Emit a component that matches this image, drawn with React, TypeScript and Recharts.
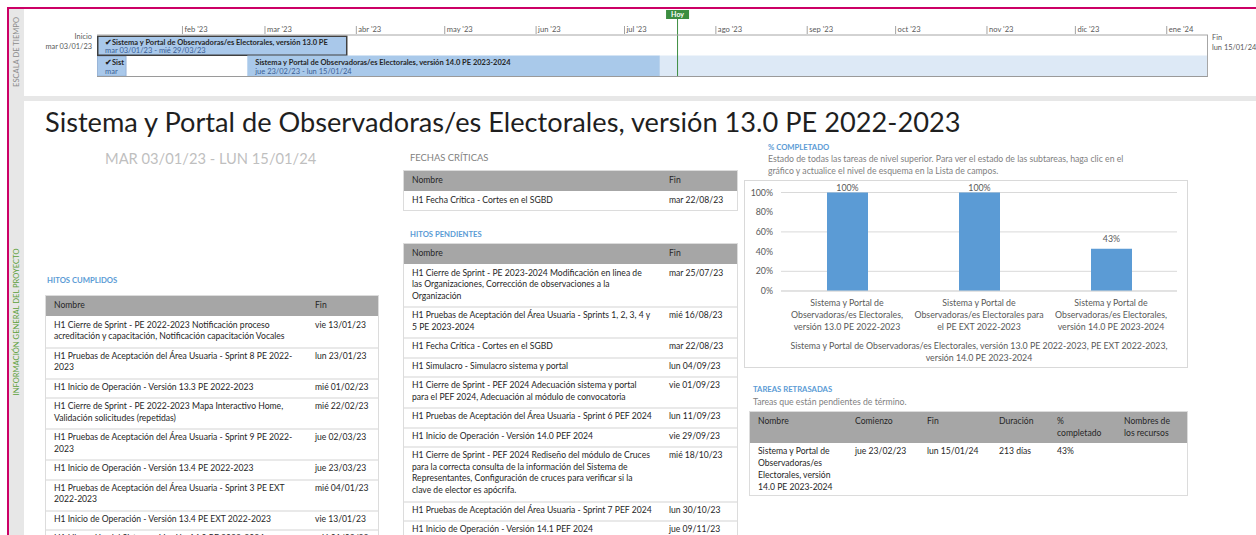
import React from 'react'
import { BarChart, Bar, ComposedChart, XAxis, YAxis, CartesianGrid, LabelList, ReferenceLine } from 'recharts'

const FONT = 'Lato, "Noto Sans", sans-serif'
const TABLE_FS = 8.6
const LINE = 11.7
const BAR_FS = 7.5

// escala de tiempo: días contados desde mar 03/01/23
const monthTicks = [29, 57, 88, 118, 149, 179, 210, 241, 271, 302, 332, 363]
const monthLabels = ["feb '23", "mar '23", "abr '23", "may '23", "jun '23", "jul '23", "ago '23", "sep '23", "oct '23", "nov '23", "dic '23", "ene '24"]
const projectDays = 377
const todayDay = 197
const tlRowNames = ['13.0 PE 2022-2023', '14.0 PE 2023-2024']
const tlFirst = [85, 10]
const tlGap = [0, 41]
const tlDone = [0, 140]
const tlRest = [0, 186]
const tlFirstNames = [
  'Sistema y Portal de Observadoras/es Electorales, versión 13.0 PE 2022-2023',
  'Sistema y Portal de Observadoras/es Electorales para el PE EXT 2022-2023',
]
const tlFirstDates = ['mar 03/01/23 - mié 29/03/23', 'mar 03/01/23 - vie 13/01/23']
const tlDoneNames = ['', 'Sistema y Portal de Observadoras/es Electorales, versión 14.0 PE 2023-2024']
const tlDoneDates = ['', 'jue 23/02/23 - lun 15/01/24']

// % completado
const pcCategories = [
  ['Sistema y Portal de', 'Observadoras/es Electorales,', 'versión 13.0 PE 2022-2023'],
  ['Sistema y Portal de', 'Observadoras/es Electorales para', 'el PE EXT 2022-2023'],
  ['Sistema y Portal de', 'Observadoras/es Electorales,', 'versión 14.0 PE 2023-2024'],
]
const pcValues = [100, 100, 43]
const pcTicks = [0, 20, 40, 60, 80, 100]
const pcAxisTitle = [
  'Sistema y Portal de Observadoras/es Electorales, versión 13.0 PE 2022-2023, PE EXT 2022-2023,',
  'versión 14.0 PE 2023-2024',
]

// tablas
const doneNames = [
  'H1 Cierre de Sprint - PE 2022-2023 Notificación proceso\nacreditación y capacitación, Notificación capacitación Vocales',
  'H1 Pruebas de Aceptación del Área Usuaria - Sprint 8 PE 2022-\n2023',
  'H1 Inicio de Operación - Versión 13.3 PE 2022-2023',
  'H1 Cierre de Sprint - PE 2022-2023 Mapa Interactivo Home,\nValidación solicitudes (repetidas)',
  'H1 Pruebas de Aceptación del Área Usuaria - Sprint 9 PE 2022-\n2023',
  'H1 Inicio de Operación - Versión 13.4 PE 2022-2023',
  'H1 Pruebas de Aceptación del Área Usuaria - Sprint 3 PE EXT\n2022-2023',
  'H1 Inicio de Operación - Versión 13.4 PE EXT 2022-2023',
  'H1 Liberación del Sistema - Versión 14.0 PE 2023-2024',
]
const doneDates = ['vie 13/01/23', 'lun 23/01/23', 'mié 01/02/23', 'mié 22/02/23', 'jue 02/03/23', 'jue 23/03/23', 'mié 04/01/23', 'vie 13/01/23', 'mié 01/03/23']

const criticalNames = ['H1 Fecha Crítica - Cortes en el SGBD']
const criticalDates = ['mar 22/08/23']

const pendingNames = [
  'H1 Cierre de Sprint - PE 2023-2024 Modificación en linea de\nlas Organizaciones, Corrección de observaciones a la\nOrganización',
  'H1 Pruebas de Aceptación del Área Usuaria - Sprints 1, 2, 3, 4 y\n5 PE 2023-2024',
  'H1 Fecha Crítica - Cortes en el SGBD',
  'H1 Simulacro - Simulacro sistema y portal',
  'H1 Cierre de Sprint - PEF 2024 Adecuación sistema y portal\npara el PEF 2024, Adecuación al módulo de convocatoria',
  'H1 Pruebas de Aceptación del Área Usuaria - Sprint 6 PEF 2024',
  'H1 Inicio de Operación - Versión 14.0 PEF 2024',
  'H1 Cierre de Sprint - PEF 2024 Rediseño del módulo de Cruces\npara la correcta consulta de la información del Sistema de\nRepresentantes, Configuración de cruces para verificar si la\nclave de elector es apócrifa.',
  'H1 Pruebas de Aceptación del Área Usuaria - Sprint 7 PEF 2024',
  'H1 Inicio de Operación - Versión 14.1 PEF 2024',
]
const pendingDates = ['mar 25/07/23', 'mié 16/08/23', 'mar 22/08/23', 'lun 04/09/23', 'vie 01/09/23', 'lun 11/09/23', 'vie 29/09/23', 'mié 18/10/23', 'lun 30/10/23', 'jue 09/11/23']

const lateHeaders = ['Nombre', 'Comienzo', 'Fin', 'Duración', '%\ncompletado', 'Nombres de\nlos recursos']
const lateRow = ['Sistema y Portal de\nObservadoras/es\nElectorales, versión\n14.0 PE 2023-2024', 'jue 23/02/23', 'lun 15/01/24', '213 días', '43%', '']
const lateColX = [8, 105, 177, 249, 307, 374]

// recorta el texto de una barra como lo hace Project: por palabra, o por letra si no hay espacio
let measureCtx: CanvasRenderingContext2D | null = null
function fitText(text: string, weight: number, size: number, maxWidth: number) {
  if (!measureCtx) measureCtx = document.createElement('canvas').getContext('2d')
  if (!measureCtx) return text
  measureCtx.font = `${weight} ${size}px Lato`
  if (measureCtx.measureText(text).width <= maxWidth) return text
  let n = text.length
  while (n > 0 && measureCtx.measureText(text.slice(0, n)).width > maxWidth) n--
  const cut = text.slice(0, n)
  if (text[n] !== ' ' && cut.includes(' ')) return cut.slice(0, cut.lastIndexOf(' '))
  return cut.trimEnd()
}

function Txt({ x, cy, size, color = '#262626', weight = 400, spacing = 0, children }: any) {
  return (
    <div style={{ position: 'absolute', left: x, top: cy - size * 0.66, fontSize: size, lineHeight: `${size * 1.2}px`, color, fontWeight: weight, letterSpacing: spacing, whiteSpace: 'nowrap' }}>
      {children}
    </div>
  )
}

function MonthTick({ x, y, payload }: any) {
  const i = monthTicks.indexOf(payload.value)
  return (
    <g>
      <line x1={x} x2={x} y1={y - 9} y2={y - 1} stroke="#8c8c8c" strokeWidth={0.8} />
      <text x={x + 2} y={y - 3.5} fontSize={7.6} fill="#595959" fontFamily={FONT}>{monthLabels[i]}</text>
    </g>
  )
}

function FirstSeg(props: any) {
  const { x, y, width, height, index } = props
  if (!width || width <= 0) return <g />
  const selected = index === 0
  const sw = selected ? 1.5 : 0.8
  const room = width - 9
  const title = fitText('\u2714' + tlFirstNames[index], 700, BAR_FS, room)
  const dates = fitText(tlFirstDates[index], 400, BAR_FS, room)
  return (
    <g fontFamily={FONT}>
      <rect x={x + sw / 2} y={y + sw / 2 + 0.5} width={width - sw} height={height - sw - 0.5} fill="#a9c8ea" stroke={selected ? '#404040' : '#8eaad0'} strokeWidth={sw} />
      <text x={x + 8} y={y + 9.6} fontSize={BAR_FS} fontWeight={700} fill="#262626">{title}</text>
      <text x={x + 8} y={y + 18.3} fontSize={BAR_FS} fill="#3b5f96">{dates}</text>
    </g>
  )
}

function DoneSeg(props: any) {
  const { x, y, width, height, index } = props
  if (!width || width <= 0) return <g />
  return (
    <g fontFamily={FONT}>
      <rect x={x} y={y} width={width} height={height} fill="#a9c9ea" />
      <text x={x + 8} y={y + 9.6} fontSize={BAR_FS} fontWeight={700} fill="#262626">{tlDoneNames[index]}</text>
      <text x={x + 8} y={y + 18.3} fontSize={BAR_FS} fill="#3b5f96">{tlDoneDates[index]}</text>
    </g>
  )
}

function RestSeg(props: any) {
  const { x, y, width, height } = props
  if (!width || width <= 0) return <g />
  return <rect x={x} y={y} width={width} height={height} fill="#dde9f6" />
}

function HoyLabel({ viewBox }: any) {
  if (!viewBox) return null
  const { x, y } = viewBox
  return (
    <g>
      <line x1={x} x2={x} y1={y - 17} y2={y} stroke="#3c8d40" strokeWidth={1} />
      <rect x={x - 11.5} y={y - 25} width={23} height={9} fill="#3c8d40" />
      <text x={x} y={y - 17.8} textAnchor="middle" fontSize={7} fontWeight={700} fill="#fff" fontFamily={FONT}>Hoy</text>
    </g>
  )
}

function CategoryTick({ x, y, index }: any) {
  const lines = pcCategories[index] ?? []
  return (
    <text x={x} textAnchor="middle" fontSize={8.8} fill="#595959" fontFamily={FONT}>
      {lines.map((l, i) => (
        <tspan key={i} x={x} y={y + 15.4 + i * 12}>{l}</tspan>
      ))}
    </text>
  )
}

function AxisTitle({ viewBox }: any) {
  if (!viewBox) return null
  const cx = viewBox.x + viewBox.width / 2
  return (
    <text textAnchor="middle" fontSize={8.8} fill="#595959" fontFamily={FONT}>
      {pcAxisTitle.map((l, i) => (
        <tspan key={i} x={cx} y={viewBox.y + 58.4 + i * 12}>{l}</tspan>
      ))}
    </text>
  )
}

function PctLabel({ x, y, width, value }: any) {
  const ty = Math.max(Number(y) - 6.4, 10.2)
  return (
    <text x={Number(x) + Number(width) / 2} y={ty} textAnchor="middle" fontSize={8.8} fill="#595959" fontFamily={FONT}>{`${value}%`}</text>
  )
}

function MilestoneTable({ left, top, width, finLeft, names, dates }: any) {
  return (
    <div style={{ position: 'absolute', left, top, width, border: '1px solid #dcdcdc', boxSizing: 'border-box', background: '#fff', fontSize: TABLE_FS, lineHeight: `${LINE}px`, color: '#262626' }}>
      <div style={{ position: 'relative', height: 19.5, background: '#a6a6a6' }}>
        <span style={{ position: 'absolute', left: 8, top: 3.5 }}>Nombre</span>
        <span style={{ position: 'absolute', left: finLeft, top: 3.5 }}>Fin</span>
      </div>
      {names.map((n: string, i: number) => (
        <div key={i} style={{ position: 'relative', borderTop: `2px solid ${i ? '#e9e9e9' : '#fff'}`, padding: '2px 0 3.7px 8px', whiteSpace: 'pre' }}>
          {n}
          <span style={{ position: 'absolute', left: finLeft, top: 2 }}>{dates[i]}</span>
        </div>
      ))}
    </div>
  )
}

export default function App() {
  const tlData = tlRowNames.map((row, i) => ({ row, first: tlFirst[i], gap: tlGap[i], done: tlDone[i], rest: tlRest[i] }))
  const pcData = pcValues.map((pct, i) => ({ name: pcCategories[i].join(' '), pct }))

  return (
    <div style={{ position: 'absolute', left: 0, top: 0, width: 1256, height: 535, overflow: 'hidden', background: '#fff', fontFamily: FONT, color: '#262626' }}>
      {/* marco */}
      <div style={{ position: 'absolute', left: 9, top: 9, width: 15, height: 526, background: '#e7e7e7' }} />
      <div style={{ position: 'absolute', left: 9, top: 96, width: 1247, height: 4.5, background: '#e7e7e7' }} />
      <div style={{ position: 'absolute', left: 7, top: 7, width: 1249, height: 2, background: '#cc0066' }} />
      <div style={{ position: 'absolute', left: 7, top: 7, width: 2, height: 528, background: '#cc0066' }} />
      <div style={{ position: 'absolute', left: 16.5, top: 52, transform: 'translate(-50%, -50%) rotate(-90deg)', fontSize: 7.6, lineHeight: 1, color: '#8c8c8c', whiteSpace: 'nowrap' }}>ESCALA DE TIEMPO</div>
      <div style={{ position: 'absolute', left: 16.5, top: 322, transform: 'translate(-50%, -50%) rotate(-90deg)', fontSize: 7.6, lineHeight: 1, color: '#5b9f3a', whiteSpace: 'nowrap' }}>INFORMACIÓN GENERAL DEL PROYECTO</div>

      {/* escala de tiempo */}
      <div style={{ position: 'absolute', left: 0, top: 32, width: 92, textAlign: 'right', fontSize: 7.4, lineHeight: '10px', color: '#595959' }}>Inicio<br />mar 03/01/23</div>
      <div style={{ position: 'absolute', left: 1212, top: 33, fontSize: 7.4, lineHeight: '10px', color: '#595959', whiteSpace: 'nowrap' }}>Fin<br />lun 15/01/24</div>
      <div style={{ position: 'absolute', left: 97, top: 10 }}>
        <ComposedChart layout="vertical" width={1111} height={66} data={tlData} margin={{ top: 0, right: 0, bottom: 0, left: 0 }} barCategoryGap={0} style={{ overflow: 'visible' }}>
          <XAxis type="number" orientation="top" domain={[0, projectDays]} ticks={monthTicks} interval={0} height={25} tickSize={0} tickMargin={0} tick={<MonthTick />} axisLine={{ stroke: '#a6a6a6' }} />
          <YAxis type="category" dataKey="row" hide />
          <Bar dataKey="first" stackId="t" shape={FirstSeg} isAnimationActive={false} />
          <Bar dataKey="gap" stackId="t" shape={() => <g />} isAnimationActive={false} />
          <Bar dataKey="done" stackId="t" shape={DoneSeg} isAnimationActive={false} />
          <Bar dataKey="rest" stackId="t" shape={RestSeg} isAnimationActive={false} />
          <ReferenceLine x={todayDay} stroke="#3c8d40" strokeWidth={1} label={<HoyLabel />} />
        </ComposedChart>
      </div>
      <div style={{ position: 'absolute', left: 97, top: 35, width: 1111, height: 41.5, boxSizing: 'border-box', borderRight: '1px solid #a6a6a6', borderBottom: '1.5px solid #9a9a9a', pointerEvents: 'none' }} />

      {/* información general */}
      <Txt x={45} cy={124} size={27.2} color="#1f1f1f">Sistema y Portal de Observadoras/es Electorales, versión 13.0 PE 2022-2023</Txt>
      <Txt x={105} cy={160} size={14.7} color="#bfbfbf">MAR 03/01/23 - LUN 15/01/24</Txt>

      <Txt x={47} cy={281} size={7.7} color="#5b9bd5" weight={700}>HITOS CUMPLIDOS</Txt>
      <MilestoneTable left={45} top={295} width={334} finLeft={269} names={doneNames} dates={doneDates} />

      <Txt x={410} cy={158} size={9.4} color="#7f7f7f">FECHAS CRÍTICAS</Txt>
      <MilestoneTable left={403} top={170} width={335} finLeft={265} names={criticalNames} dates={criticalDates} />

      <Txt x={410} cy={235} size={7.7} color="#5b9bd5" weight={700}>HITOS PENDIENTES</Txt>
      <MilestoneTable left={403} top={243} width={335} finLeft={265} names={pendingNames} dates={pendingDates} />

      <Txt x={768} cy={148} size={7.7} color="#5b9bd5" weight={700}>% COMPLETADO</Txt>
      <Txt x={768} cy={160} size={8.7} color="#7f7f7f">Estado de todas las tareas de nivel superior. Para ver el estado de las subtareas, haga clic en el</Txt>
      <Txt x={768} cy={172} size={8.7} color="#7f7f7f">gráfico y actualice el nivel de esquema en la Lista de campos.</Txt>
      <div style={{ position: 'absolute', left: 744, top: 180, width: 444, height: 188, border: '1px solid #d9d9d9', boxSizing: 'border-box', background: '#fff' }}>
        <BarChart width={442} height={186} data={pcData} margin={{ top: 11.5, right: 10, bottom: 0, left: 0 }}>
          <CartesianGrid vertical={false} stroke="#d9d9d9" />
          <XAxis dataKey="name" interval={0} height={76} tickSize={0} tickMargin={0} tickLine={false} axisLine={{ stroke: '#d9d9d9' }} tick={<CategoryTick />} label={<AxisTitle />} />
          <YAxis type="number" domain={[0, 100]} ticks={pcTicks} width={36} tickLine={false} axisLine={false} tickFormatter={(v: number) => `${v}%`} tick={{ fontSize: 8.8, fill: '#595959', fontFamily: FONT }} />
          <Bar dataKey="pct" fill="#5b9bd5" barSize={41} isAnimationActive={false}>
            <LabelList dataKey="pct" content={<PctLabel />} />
          </Bar>
        </BarChart>
      </div>

      <Txt x={753} cy={390} size={7.7} color="#5b9bd5" weight={700}>TAREAS RETRASADAS</Txt>
      <Txt x={753} cy={403} size={8.7} color="#7f7f7f">Tareas que están pendientes de término.</Txt>
      <div style={{ position: 'absolute', left: 749, top: 411, width: 439, border: '1px solid #dcdcdc', boxSizing: 'border-box', background: '#fff', fontSize: TABLE_FS, lineHeight: `${LINE}px`, color: '#262626' }}>
        <div style={{ position: 'relative', height: 31, background: '#a6a6a6' }}>
          {lateHeaders.map((h, i) => (
            <span key={i} style={{ position: 'absolute', left: lateColX[i], top: 4.3, whiteSpace: 'pre' }}>{h}</span>
          ))}
        </div>
        <div style={{ position: 'relative', height: 52 }}>
          {lateRow.map((c, i) => (
            <span key={i} style={{ position: 'absolute', left: lateColX[i], top: 3.4, whiteSpace: 'pre' }}>{c}</span>
          ))}
        </div>
      </div>
    </div>
  )
}
